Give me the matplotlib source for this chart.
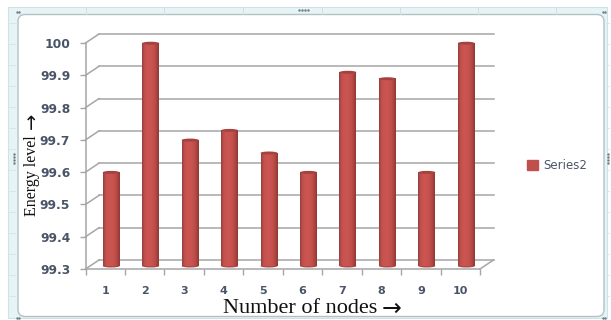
import matplotlib
matplotlib.use("Agg")
import matplotlib.pyplot as plt
import matplotlib.transforms as mtrans
from matplotlib.colors import LinearSegmentedColormap
from matplotlib.patches import Ellipse, FancyBboxPatch, Patch
import numpy as np

nodes = [1, 2, 3, 4, 5, 6, 7, 8, 9, 10]
energy = [99.59, 99.99, 99.69, 99.72, 99.65, 99.59, 99.90, 99.88, 99.59, 99.99]
y_ticks = [99.3, 99.4, 99.5, 99.6, 99.7, 99.8, 99.9, 100]
y_labels = ["99.3", "99.4", "99.5", "99.6", "99.7", "99.8", "99.9", "100"]

W, H = 611, 320
fig = plt.figure(figsize=(W / 100, H / 100), dpi=100, facecolor="white")

# pixel canvas for the excel frame round the chart
bg = fig.add_axes([0, 0, 1, 1])
bg.set_xlim(0, W)
bg.set_ylim(H, 0)
bg.axis("off")
bg.add_patch(plt.Rectangle((8, 7), 599, 311, fc="#e6f4f6", ec="#cfe3e6", lw=0.8))
for gx in [86, 164, 243, 322, 400, 478, 556]:
    bg.plot([gx, gx], [7, 14], color="#cfe0e4", lw=0.7)
for gy in [23, 44, 65, 86, 107, 128, 149, 170, 191, 212, 233, 254, 275, 296]:
    bg.plot([8, 17], [gy, gy], color="#d4e6ea", lw=0.6)
    bg.plot([606, 609], [gy, gy], color="#d4e6ea", lw=0.6)
bg.add_patch(FancyBboxPatch((18, 14.5), 586, 302, boxstyle="round,pad=0,rounding_size=7",
                            fc="white", ec="#b3c1c5", lw=1.0))
for px, py in [(18, 12), (604, 12), (18, 318), (604, 318)]:
    bg.plot([px - 1, px + 1], [py, py], ls="none", marker=".", ms=1.5, color="#6f7f82")
for px, py, dx, dy in [(14, 160, 0, 3), (608, 160, 0, 3), (305, 10, 3, 0)]:
    for i in range(-2, 2):
        bg.plot(px + i * dx, py + i * dy, ls="none", marker=".", ms=1.5, color="#6f7f82")

# main plot, 3d look comes from offsetting walls and bars in pixels
left, right, top, bottom = 85.5, 480, 43, 269
ax = fig.add_axes([left / W, 1 - bottom / H, (right - left) / W, (bottom - top) / H])
ax.patch.set_alpha(0)
ax.set_xlim(0.5, 10.5)
ax.set_ylim(99.3, 100)
for s in ["top", "right"]:
    ax.spines[s].set_visible(False)
grid_c = "#a6a6a6"
for s in ["left", "bottom"]:
    ax.spines[s].set_color(grid_c)
    ax.spines[s].set_linewidth(1.1)

back = ax.transData + mtrans.ScaledTranslation(13.5 / 100, 9 / 100, fig.dpi_scale_trans)
bar_off = ax.transData + mtrans.ScaledTranslation(6 / 100, 3 / 100, fig.dpi_scale_trans)

# back wall gridlines and the diagonal stubs
for v in y_ticks:
    ax.plot([0.5, 10.5], [v, v], transform=back, color=grid_c, lw=1.1, clip_on=False, zorder=1)
    p = ax.transData.inverted().transform([ax.transData.transform((0.5, v)), back.transform((0.5, v))])
    ax.plot(p[:, 0], p[:, 1], color=grid_c, lw=1.1, clip_on=False, zorder=1)
p = ax.transData.inverted().transform([ax.transData.transform((10.5, 99.3)), back.transform((10.5, 99.3))])
ax.plot(p[:, 0], p[:, 1], color=grid_c, lw=1.1, clip_on=False, zorder=1)

ax.set_xticks(np.arange(0.5, 11, 1))
ax.set_xticklabels([])
ax.set_xticks(nodes, labels=[str(n) for n in nodes], minor=True)
ax.tick_params(axis="x", which="major", length=4, color=grid_c, width=1)
ax.tick_params(axis="x", which="minor", length=0, pad=12, labelsize=8, labelcolor="#4a5468")
ax.set_yticks(y_ticks, labels=y_labels)
ax.tick_params(axis="y", length=4, color=grid_c, width=1, pad=7, labelsize=8.8, labelcolor="#4a5468")
for t in ax.get_yticklabels() + ax.get_xticklabels(minor=True):
    t.set_fontfamily("DejaVu Sans")
    t.set_fontweight("bold")

# cylinders
bar_w = 0.43
cyl = LinearSegmentedColormap.from_list(
    "cyl", ["#94403d", "#bf4f4c", "#c9534f", "#cb5552", "#c9534f", "#c0504d", "#b0453f", "#8c3835"])
shade = np.linspace(0, 1, 64).reshape(1, -1)
bars = ax.bar(nodes, np.array(energy) - 99.3, bottom=99.3, width=bar_w, color="#c0504d",
              transform=bar_off, zorder=3, clip_on=False)
cap_h = 3.0 * 0.7 / (bottom - top)
for n, v in zip(nodes, energy):
    im = ax.imshow(shade, cmap=cyl, aspect="auto", zorder=4, vmin=0, vmax=1,
                   extent=[n - bar_w / 2, n + bar_w / 2, 99.3, v])
    im.set_transform(bar_off)
    im.set_clip_on(False)
    ax.add_patch(Ellipse((n, v), bar_w, cap_h, transform=bar_off, fc="#a5423f", ec="none", zorder=5, clip_on=False))
    ax.add_patch(Ellipse((n, 99.3), bar_w, cap_h, transform=bar_off, fc="#b04744", ec="none", zorder=2.9, clip_on=False))
ax.set_xlim(0.5, 10.5)
ax.set_ylim(99.3, 100)

fig.legend(handles=[Patch(color="#c0504d", label="Series2")], loc="center left",
           bbox_to_anchor=(527 / W, 1 - 165.5 / H), frameon=False, fontsize=8.5,
           labelcolor="#4a5468", handlelength=0.95, handleheight=0.95, handletextpad=0.45,
           borderpad=0, borderaxespad=0)

# axis titles, the arrows are their own texts because they are heavier in the original
bg.text(32, 175.5, "Energy level", rotation=90, ha="center", va="center", fontsize=11.5,
        family="Liberation Serif", color="#111111")
bg.text(32, 120.5, "→", rotation=90, ha="center", va="center", fontsize=14,
        family="DejaVu Sans", color="#111111")
bg.text(300.5, 308.5, "Number of nodes", ha="center", va="center", fontsize=16,
        family="Liberation Serif", color="#111111")
bg.text(391.5, 308.5, "→", ha="center", va="center", fontsize=17,
        family="DejaVu Sans", color="#111111")

fig.savefig("out.png", dpi=100, facecolor="white")
